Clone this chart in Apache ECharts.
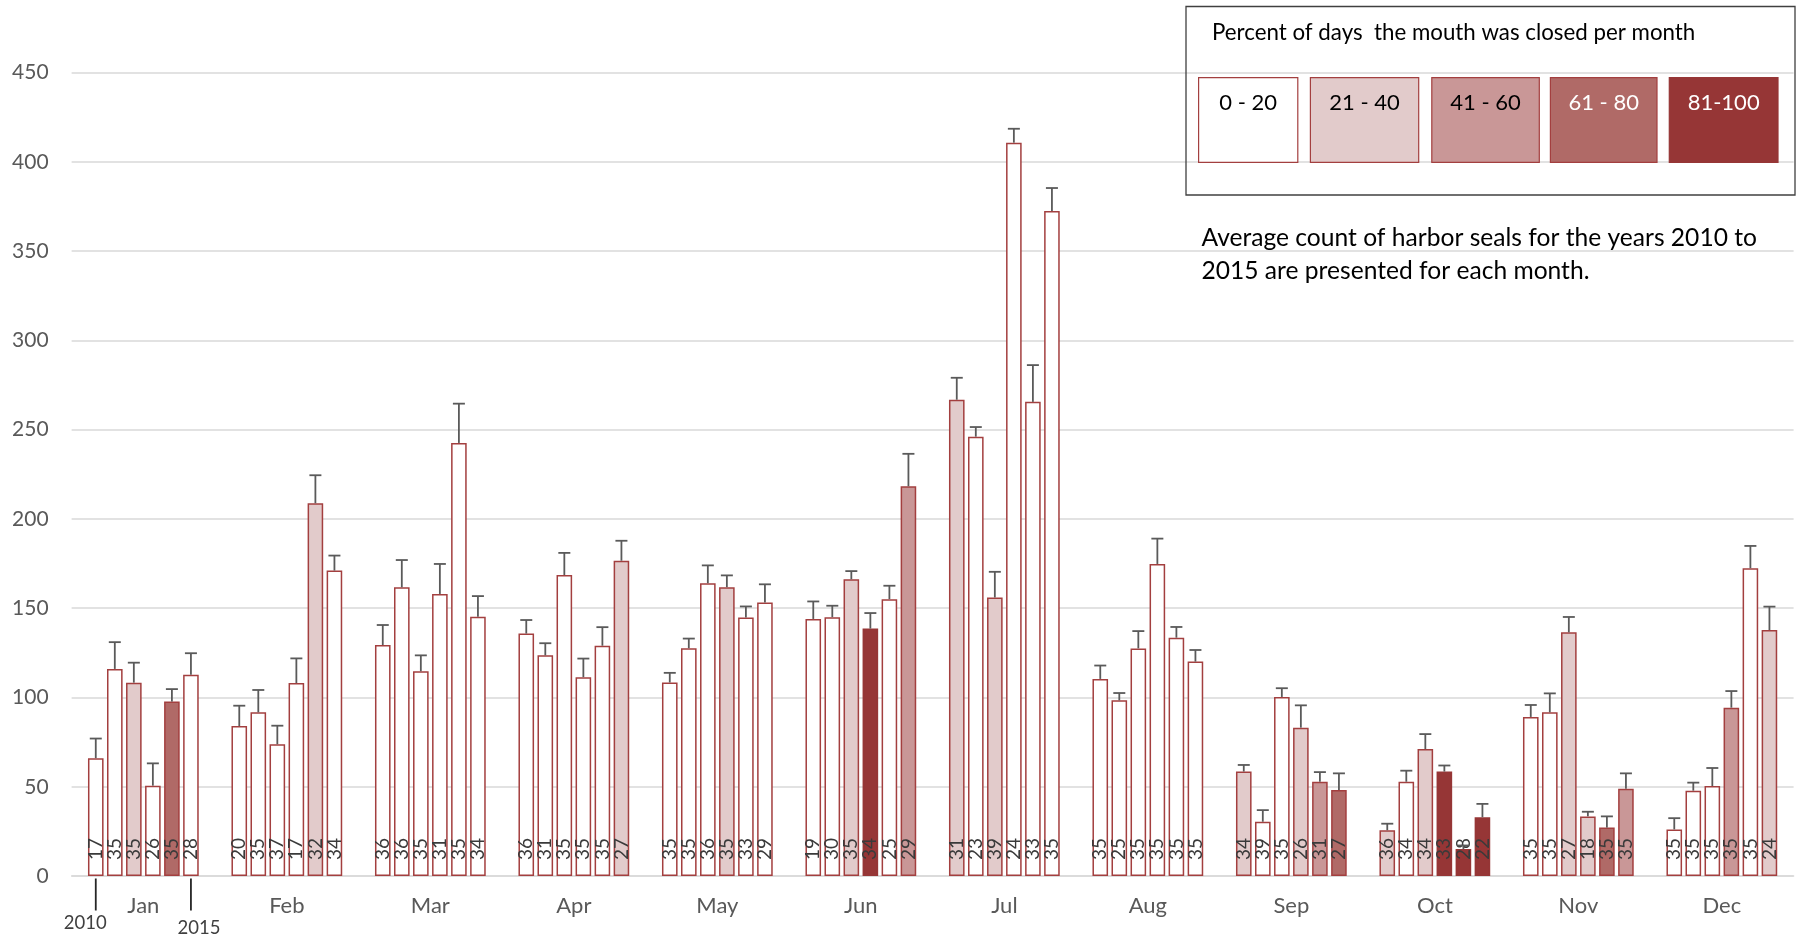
<!DOCTYPE html>
<html>
<head>
<meta charset="utf-8">
<title>Harbor seal counts by month, 2010-2015</title>
<script src="https://cdn.jsdelivr.net/npm/echarts@6/dist/echarts.min.js"></script>
<style>
  html, body { margin: 0; padding: 0; background: #ffffff; }
  #chart { width: 1800px; height: 939px; }
</style>
</head>
<body>
<div id="chart"></div>
<script>
// Months on the category axis, one bar per year inside each month
const months = ['Jan', 'Feb', 'Mar', 'Apr', 'May', 'Jun', 'Jul', 'Aug', 'Sep', 'Oct', 'Nov', 'Dec'];
const years = ['2010', '2011', '2012', '2013', '2014', '2015'];
const yTicks = { min: 0, max: 450, step: 50 };

// Average count of harbor seals, per year (Jan..Dec)
const count2010 = [66, 84, 129.4, 135.8, 108.4, 144, 266.8, 110.4, 58.5, 25.6, 89.1, 26.1];
const count2011 = [116, 91.7, 161.7, 123.6, 127.6, 145, 246.1, 98.4, 30.4, 52.8, 91.7, 47.8];
const count2012 = [108.3, 73.8, 114.7, 168.6, 164, 166.2, 156, 127.5, 100.3, 71.1, 136.5, 50.4];
const count2013 = [50.6, 108.1, 158, 111.4, 161.8, 138.6, 410.8, 174.8, 83.1, 58.5, 33.4, 94.3];
const count2014 = [97.7, 208.8, 242.6, 129, 144.8, 155.1, 265.6, 133.5, 52.8, 15.1, 27.1, 172.4];
const count2015 = [112.8, 171.1, 145.2, 176.6, 153.2, 218.3, 372.5, 120.1, 48.2, 32.9, 48.9, 137.8];

// Error bar (upper) length, per year
const err2010 = [11, 11.4, 11.2, 7.6, 5.4, 9.8, 12.3, 7.5, 3.7, 3.7, 6.7, 6.3];
const err2011 = [15, 12.5, 15.3, 6.8, 5.4, 6.4, 5.4, 4.1, 6.5, 6.2, 10.6, 4.5];
const err2012 = [11.2, 10.4, 8.9, 12.4, 10, 4.6, 14.4, 9.7, 4.9, 8.4, 8.6, 10.1];
const err2013 = [12.5, 13.8, 16.8, 10.4, 6.6, 8.7, 7.8, 14.2, 12.5, 3.4, 2.6, 9.3];
const err2014 = [7, 15.7, 22, 10.4, 6.2, 7.5, 20.6, 6, 5.4, 2, 6.3, 12.5];
const err2015 = [12, 8.4, 11.6, 11.2, 10.2, 18.2, 12.9, 6.5, 9.3, 7.5, 8.6, 13.1];

// Number of survey days, written on each bar
const days2010 = [17, 20, 36, 36, 35, 19, 31, 35, 34, 36, 35, 35];
const days2011 = [35, 35, 36, 31, 35, 30, 23, 25, 39, 34, 35, 35];
const days2012 = [35, 37, 35, 35, 36, 35, 39, 35, 35, 34, 27, 35];
const days2013 = [26, 17, 31, 35, 35, 34, 24, 35, 26, 33, 18, 35];
const days2014 = [35, 32, 35, 35, 33, 25, 33, 35, 31, 28, 35, 35];
const days2015 = [28, 34, 34, 27, 29, 29, 35, 35, 27, 22, 35, 24];

// Percent-of-days-closed bin (0: 0-20, 1: 21-40, 2: 41-60, 3: 61-80, 4: 81-100)
const closed2010 = [0, 0, 0, 0, 0, 0, 1, 0, 1, 1, 0, 0];
const closed2011 = [0, 0, 0, 0, 0, 0, 0, 0, 0, 0, 0, 0];
const closed2012 = [1, 0, 0, 0, 0, 1, 1, 0, 0, 1, 1, 0];
const closed2013 = [0, 0, 0, 0, 1, 4, 0, 0, 1, 4, 1, 2];
const closed2014 = [3, 1, 0, 0, 0, 0, 0, 0, 2, 4, 3, 0];
const closed2015 = [0, 0, 0, 1, 0, 2, 0, 0, 3, 4, 2, 1];

// Legend bins
const binLabels = ['0 - 20', '21 - 40', '41 - 60', '61 - 80', '81-100'];
const binColors = ['#ffffff', '#e2cbcb', '#c99797', '#b06a67', '#963636'];
const binTextColors = ['#000000', '#000000', '#000000', '#ffffff', '#ffffff'];

const legendTitle = 'Percent of days  the mouth was closed per month';
const noteLines = ['Average count of harbor seals for the years 2010 to', '2015 are presented for each month.'];

// ---- build ----
const counts = [count2010, count2011, count2012, count2013, count2014, count2015];
const errs = [err2010, err2011, err2012, err2013, err2014, err2015];
const daysAll = [days2010, days2011, days2012, days2013, days2014, days2015];
const closedAll = [closed2010, closed2011, closed2012, closed2013, closed2014, closed2015];

const FONT = 'Lato, "Noto Sans", sans-serif';
const BAR_W = 15.6;
const BAR_GAP_RATIO = 0.22;
const PITCH = BAR_W * (1 + BAR_GAP_RATIO);
const EDGE = '#a33f3f';

const barSeries = years.map((yr, j) => ({
  name: yr,
  type: 'bar',
  barWidth: BAR_W,
  barGap: (BAR_GAP_RATIO * 100) + '%',
  data: counts[j].map((v, i) => ({
    value: v,
    itemStyle: {
      color: binColors[closedAll[j][i]],
      borderColor: closedAll[j][i] === 4 ? binColors[4] : EDGE,
      borderWidth: 1.5
    }
  })),
  label: {
    show: true,
    position: 'insideBottom',
    rotate: 90,
    align: 'left',
    verticalAlign: 'middle',
    distance: 16,
    color: '#3a3a3a',
    fontFamily: FONT,
    fontSize: 19,
    formatter: (p) => String(daysAll[j][p.dataIndex])
  },
  silent: true,
  z: 2
}));

const errData = [];
years.forEach((yr, j) => {
  months.forEach((m, i) => {
    errData.push([i, j, counts[j][i], errs[j][i]]);
  });
});

const errSeries = {
  type: 'custom',
  data: errData,
  encode: { x: 0, y: 2 },
  z: 3,
  silent: true,
  renderItem: (params, api) => {
    const i = api.value(0);
    const j = api.value(1);
    const mean = api.value(2);
    const e = api.value(3);
    const x = api.coord([i, 0])[0] + (j - 2.5) * PITCH;
    const yBase = api.coord([i, mean])[1];
    const yTop = api.coord([i, mean + e])[1];
    const style = { stroke: '#5a5a5a', lineWidth: 1.8 };
    return {
      type: 'group',
      children: [
        { type: 'line', shape: { x1: x, y1: yBase, x2: x, y2: yTop }, style },
        { type: 'line', shape: { x1: x - 6, y1: yTop, x2: x + 6, y2: yTop }, style }
      ]
    };
  }
};

const chart = echarts.init(document.getElementById('chart'), null, { renderer: 'canvas' });

chart.setOption({
  animation: false,
  backgroundColor: '#ffffff',
  grid: { left: 71.6, right: 6.4, top: 72.7, bottom: 63 },
  xAxis: {
    type: 'category',
    data: months,
    axisLine: { show: true, lineStyle: { color: '#d9d9d9', width: 1.5 } },
    axisTick: { show: false },
    axisLabel: { color: '#595959', fontFamily: FONT, fontSize: 22, margin: 19 },
    splitLine: { show: false }
  },
  yAxis: {
    type: 'value',
    min: yTicks.min,
    max: yTicks.max,
    interval: yTicks.step,
    axisLine: { show: false },
    axisTick: { show: false },
    axisLabel: { color: '#595959', fontFamily: FONT, fontSize: 21, margin: 23 },
    splitLine: { lineStyle: { color: '#d9d9d9', width: 1.5 } }
  },
  series: [...barSeries, errSeries]
});

// Legend box, note text and the 2010/2015 markers under January
const graphics = [];
graphics.push({
  type: 'rect',
  shape: { x: 1186, y: 6.5, width: 609, height: 188.5 },
  style: { fill: 'transparent', stroke: '#404040', lineWidth: 1.3 },
  z: 10
});
graphics.push({
  type: 'text',
  x: 1212, y: 33,
  style: { text: legendTitle, fill: '#000000', font: '22.3px ' + FONT, textVerticalAlign: 'middle' },
  z: 11
});
const swatchX = [1198.6, 1310.4, 1431.8, 1550.4, 1669.3];
const swatchW = [99.2, 108.3, 107.5, 106.6, 108.7];
binLabels.forEach((lab, k) => {
  graphics.push({
    type: 'rect',
    shape: { x: swatchX[k], y: 77.7, width: swatchW[k], height: 84.6 },
    style: { fill: binColors[k], stroke: k === 4 ? binColors[4] : EDGE, lineWidth: 1.2 },
    z: 10
  });
  graphics.push({
    type: 'text',
    x: swatchX[k] + swatchW[k] / 2, y: 102.5,
    style: { text: lab, fill: binTextColors[k], font: '22px ' + FONT, textAlign: 'center', textVerticalAlign: 'middle' },
    z: 11
  });
});
noteLines.forEach((t, k) => {
  graphics.push({
    type: 'text',
    x: 1201.5, y: 238 + k * 32.7,
    style: { text: t, fill: '#000000', font: '24.6px ' + FONT, textVerticalAlign: 'middle' },
    z: 11
  });
});

const janCenter = chart.convertToPixel({ xAxisIndex: 0 }, months[0]);
const axisY = chart.convertToPixel({ yAxisIndex: 0 }, 0);
[[0, years[0], -10.5, 47], [5, years[5], 8, 52]].forEach(([j, yr, dx, dy]) => {
  const x = janCenter + (j - 2.5) * PITCH;
  graphics.push({
    type: 'line',
    shape: { x1: x, y1: axisY + 2.5, x2: x, y2: axisY + 34.5 },
    style: { stroke: '#262626', lineWidth: 1.8 },
    z: 11
  });
  graphics.push({
    type: 'text',
    x: x + dx, y: axisY + dy,
    style: { text: yr, fill: '#404040', font: '18.5px ' + FONT, textAlign: 'center', textVerticalAlign: 'middle' },
    z: 11
  });
});

chart.setOption({ graphic: graphics });
</script>
</body>
</html>
